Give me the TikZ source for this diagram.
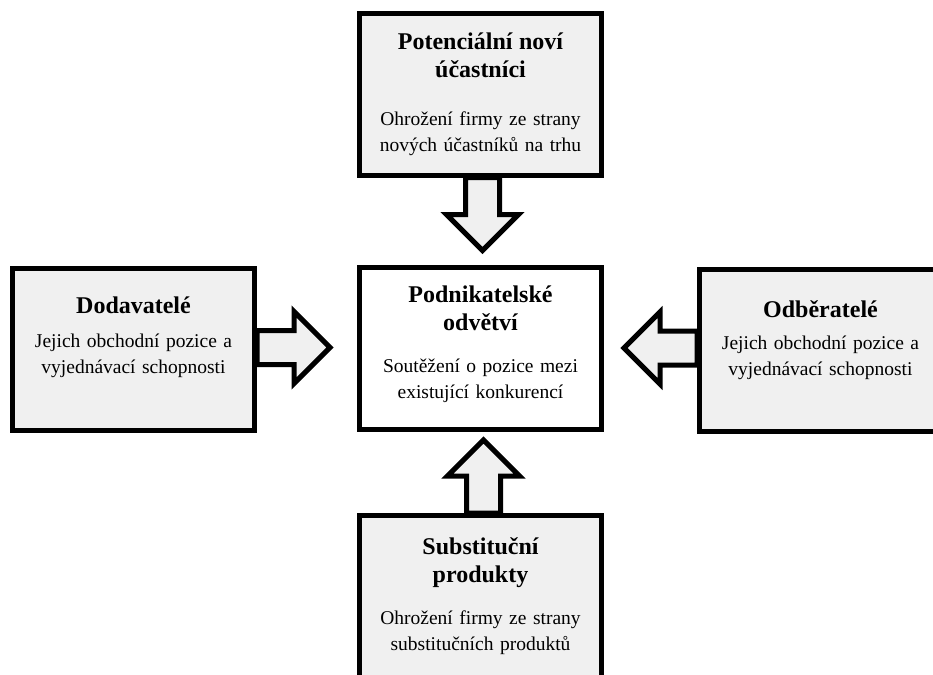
\documentclass[tikz,border=0pt]{standalone}
\usepackage{fontspec}
\setmainfont{Liberation Serif}
\usetikzlibrary{positioning}

\setlength{\parindent}{0pt}
\definecolor{boxgray}{HTML}{F0F0F0}

% bold heading of a box, #1 = space below it
\newcommand{\heading}[2][8pt]{{\bfseries\fontsize{12}{14}\selectfont #2\par}\vspace{#1}}
% empty space under the text (lifts it inside the box)
\newcommand{\padbelow}[1]{\par\vspace{#1}\nointerlineskip\null}

% hollow block arrow leaving a box: #1 = start anchor, #2 = direction
\newcommand{\blockarrow}[2]{%
    \draw[fatarrow, shift={(#1)}, rotate=#2]
        (0,17) -- (37,17) -- (37,36) -- (73,0) -- (37,-36) -- (37,-17) -- (0,-17) -- cycle;}

\begin{document}
\begin{tikzpicture}[
    x=0.5pt, y=0.5pt,
    font=\fontsize{9.75}{13}\selectfont,
    box/.style={
        draw, line width=2.5pt, fill=boxgray,
        minimum width=121pt, minimum height=81pt,
        text width=114pt, align=center, inner sep=2pt,
    },
    core/.style={box, fill=white},
    fatarrow/.style={draw, line width=2.5pt, fill=boxgray},
]
\useasboundingbox (0,0) rectangle (933,-675);
\clip (0,0) rectangle (933,-675);

% ============ NODES ============

% Centre (text sits a little above the middle)
\node[core] (industry) at (480.5,-348.5) {\heading{Podnikatelské\\ odvětví}
    Soutěžení o pozice mezi\\ existující konkurencí\padbelow{4pt}};

% Top / bottom
\node[box] (entrants) at (480.5,-94) {\heading[11pt]{Potenciální noví\\ účastníci}
    Ohrožení firmy ze strany\\ nových účastníků na trhu};
\node[box] (subst) at (480.5,-596.5) {\heading{Substituční\\ produkty}
    Ohrožení firmy ze strany\\ substitučních produktů};

% Left / right
\node[box] (supp)   at (133.5,-349) {\heading[4pt]{Dodavatelé}
    Jejich obchodní pozice a\\ vyjednávací schopnosti\padbelow{12pt}};
\node[box] (buyers) at (820.5,-350) {\heading[3pt]{Odběratelé}
    Jejich obchodní pozice a\\ vyjednávací schopnosti\padbelow{10pt}};

% ============ ARROWS ============

\blockarrow{[xshift=1pt]entrants.south}{-90}
\blockarrow{[xshift=1.5pt]subst.north}{90}
\blockarrow{[yshift=0.75pt]supp.east}{0}
\blockarrow{[yshift=1pt]buyers.west}{180}

\end{tikzpicture}
\end{document}
